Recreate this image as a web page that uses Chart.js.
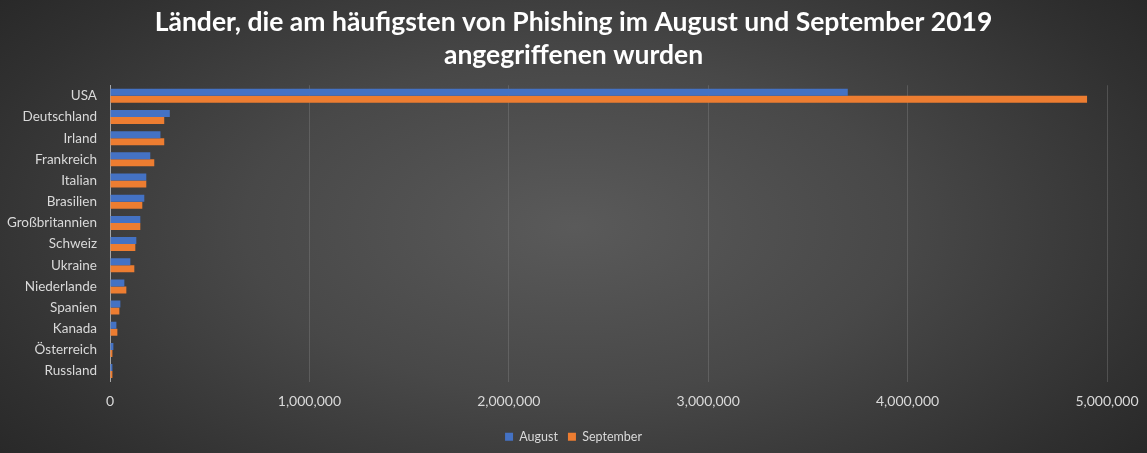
<!DOCTYPE html>
<html>
<head>
<meta charset="utf-8">
<script src="https://cdn.jsdelivr.net/npm/chart.js@4/dist/chart.umd.min.js"></script>
<style>
  html, body { margin: 0; padding: 0; }
  body {
    width: 1147px; height: 453px; overflow: hidden;
    background: radial-gradient(ellipse 72% 92% at 50% 50%, #5a5a5a 0%, #484848 40%, #303030 76%, #222222 100%);
  }
  #wrap { position: relative; width: 1147px; height: 453px; }
</style>
</head>
<body>
<div id="wrap"><canvas id="phishingChart"></canvas></div>
<script>
// ---------------- Data ----------------

const countries = [
    "USA", "Deutschland", "Irland", "Frankreich", "Italian", "Brasilien",
    "Großbritannien", "Schweiz", "Ukraine", "Niederlande", "Spanien",
    "Kanada", "Österreich", "Russland"
];

const august = [
    3700000, 300000, 253000, 202000, 182000, 172000,
    152000, 132000, 102000, 72000, 52000,
    32000, 17000, 12000
];

const september = [
    4900000, 272000, 272000, 222000, 182000, 162000,
    152000, 127000, 122000, 82000, 47000,
    37000, 12000, 12000
];

const xTicks = [0, 1000000, 2000000, 3000000, 4000000, 5000000];

// ---------------- Chart ----------------

const fontFamily = "Lato, 'Open Sans', sans-serif";

const ctx = document.getElementById("phishingChart").getContext("2d");

new Chart(ctx, {

    type: "bar",

    data: {
        labels: countries,
        datasets: [
            {
                label: "August",
                data: august,
                backgroundColor: "#4472C4",
                barPercentage: 1,
                categoryPercentage: 0.66
            },
            {
                label: "September",
                data: september,
                backgroundColor: "#ED7D31",
                barPercentage: 1,
                categoryPercentage: 0.66
            }
        ]
    },

    options: {
        indexAxis: "y",
        responsive: true,
        maintainAspectRatio: false,
        animation: false,
        layout: {
            padding: { left: 0, right: 0, top: 6, bottom: 0 }
        },
        plugins: {
            title: {
                display: true,
                text: [
                    "Länder, die am häufigsten von Phishing im August und September 2019",
                    "angegriffenen wurden"
                ],
                color: "#ffffff",
                font: { family: fontFamily, size: 26.5, weight: "bold", lineHeight: 1.25 },
                padding: { top: 0, bottom: 13 }
            },
            legend: {
                position: "bottom",
                labels: {
                    color: "#d9d9d9",
                    font: { family: fontFamily, size: 12.5 },
                    boxWidth: 8,
                    boxHeight: 8,
                    padding: 10
                }
            },
            tooltip: { enabled: false }
        },
        scales: {
            x: {
                min: 0,
                max: 5000000,
                afterBuildTicks: (scale) => {
                    scale.ticks = xTicks.map(v => ({ value: v }));
                },
                afterFit: (scale) => { scale.paddingRight = 40; },
                grid: {
                    color: "rgba(140,140,140,0.35)",
                    drawTicks: false,
                    lineWidth: 1
                },
                border: { display: false },
                ticks: {
                    color: "#d9d9d9",
                    font: { family: fontFamily, size: 14 },
                    padding: 11,
                    maxRotation: 0,
                    callback: (v) => Number(v).toLocaleString("en-US")
                }
            },
            y: {
                grid: { display: false },
                border: { display: true, color: "#a6a6a6", width: 1 },
                afterFit: (scale) => { scale.width = 110; },
                ticks: {
                    color: "#d9d9d9",
                    font: { family: fontFamily, size: 13.5 },
                    padding: 5,
                    autoSkip: false
                }
            }
        }
    }

});
</script>
</body>
</html>
